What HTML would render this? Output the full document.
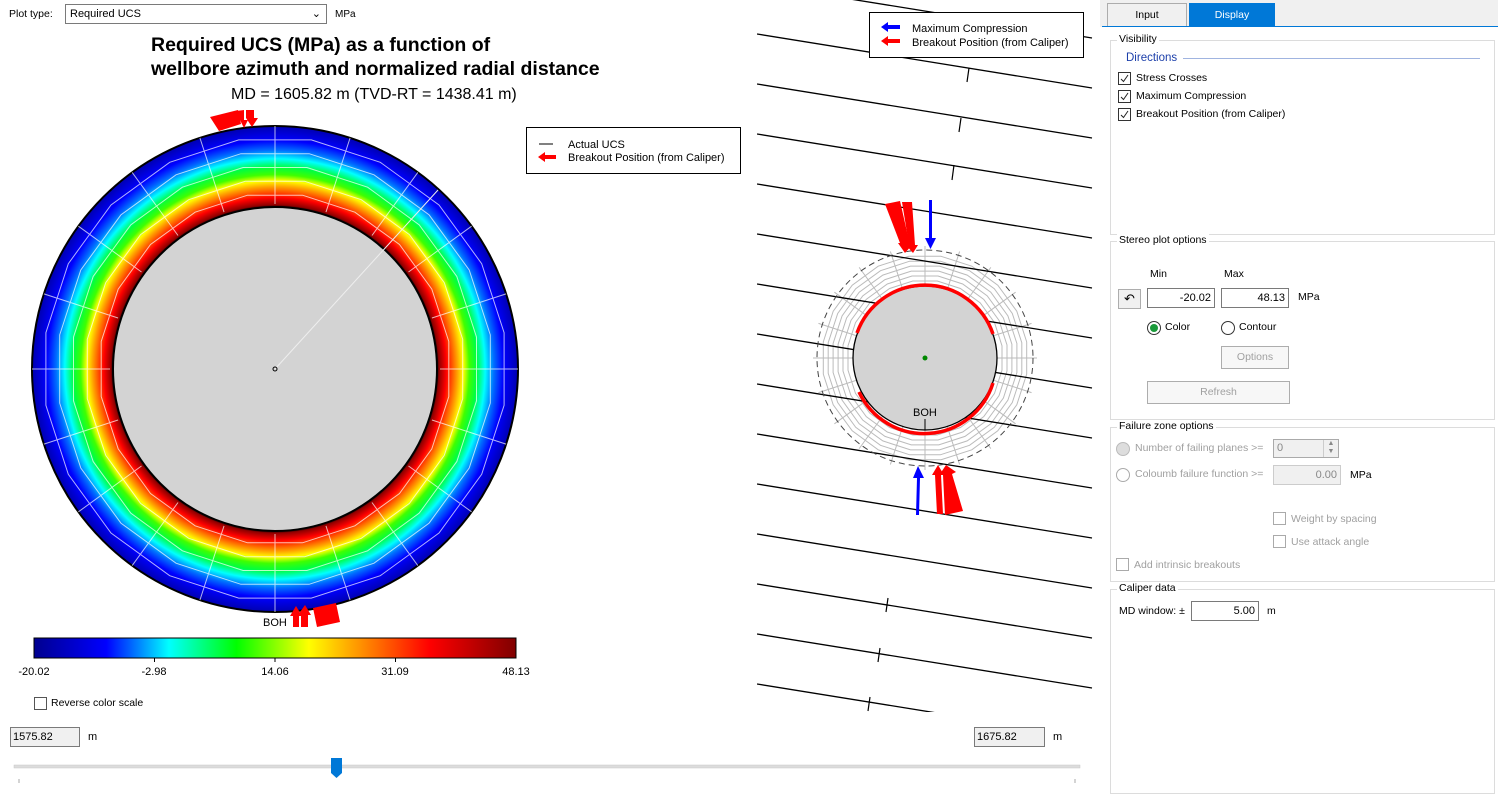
<!DOCTYPE html>
<html><head><meta charset="utf-8"><style>
body{margin:0;width:1498px;height:801px;background:#fff;font-family:"Liberation Sans",sans-serif;font-size:11px;color:#000;position:relative;overflow:hidden}
.a{position:absolute;white-space:nowrap}
.p{font-size:10.5px}
.gb{position:absolute;border:1px solid #dcdcdc}
.gt{position:absolute;background:#fff;padding:0 2px;top:-8px;left:6px;font-size:10.5px}
.cb{position:absolute;width:11px;height:11px;border:1px solid #333;background:#fff}
.tb{position:absolute;border:1px solid #7a7a7a;background:#fff;text-align:right;padding-right:3px;box-sizing:border-box;line-height:18px;font-size:11px}
.dis{color:#a0a0a0}
.btn{position:absolute;border:1px solid #adadad;background:#f7f7f7;color:#a0a0a0;text-align:center;box-sizing:border-box;line-height:20px;font-size:10.5px}
</style></head><body>
<div class="a" style="left:9px;top:8px;font-size:10.5px">Plot type:</div>
<div class="a" style="left:65px;top:4px;width:262px;height:20px;border:1px solid #7a7a7a;box-sizing:border-box;padding-left:4px;line-height:18px">Required UCS<span style="position:absolute;right:5px;top:0">&#8964;</span></div>
<div class="a" style="left:335px;top:9px;font-size:10px">MPa</div>
<div class="a" style="left:151px;top:33px;font-size:19.5px;font-weight:bold;line-height:24px">Required UCS (MPa) as a function of<br>wellbore azimuth and normalized radial distance</div>
<div class="a" style="left:231px;top:86px;font-size:16px">MD = 1605.82 m (TVD-RT = 1438.41 m)</div>

<svg width="1100" height="801" style="position:absolute;left:0;top:0">
<defs>
<radialGradient id="rg" cx="275" cy="369" r="243" gradientUnits="userSpaceOnUse">
<stop offset="0.665" stop-color="#000"/>
<stop offset="0.675" stop-color="#900000"/>
<stop offset="0.705" stop-color="#ff0000"/>
<stop offset="0.75" stop-color="#ffa000"/>
<stop offset="0.775" stop-color="#ffff00"/>
<stop offset="0.80" stop-color="#40ff00"/>
<stop offset="0.83" stop-color="#00ff40"/>
<stop offset="0.865" stop-color="#00ffff"/>
<stop offset="0.90" stop-color="#0070ff"/>
<stop offset="0.94" stop-color="#0000ff"/>
<stop offset="1" stop-color="#0000b0"/>
</radialGradient>
<linearGradient id="jet" x1="0" x2="1">
<stop offset="0" stop-color="#00008f"/><stop offset="0.15" stop-color="#0000ff"/><stop offset="0.28" stop-color="#00ffff"/><stop offset="0.42" stop-color="#00ff00"/><stop offset="0.57" stop-color="#ffff00"/><stop offset="0.82" stop-color="#ff0000"/><stop offset="1" stop-color="#800000"/>
</linearGradient>
<clipPath id="mc"><rect x="757" y="0" width="336" height="712"/></clipPath>
</defs>
<circle cx="275" cy="369" r="243" fill="url(#rg)" stroke="#000" stroke-width="2"/>
<g stroke="#fff" stroke-width="1" fill="none" opacity="0.7" id="grid"></g>
<circle cx="275" cy="369" r="162" fill="#d3d3d3" stroke="#000" stroke-width="2"/>
<line x1="275" y1="369" x2="438" y2="190" stroke="#eee" stroke-width="1"/>
<circle cx="275" cy="369" r="2" fill="none" stroke="#000"/>
<polygon points="210,117 238,110 241,124 219,131" fill="#f00"/>
<polygon points="236,111 244,110 244,120 248,120 244,128 240,120 236,120" fill="#f00"/>
<polygon points="246,110 254,110 254,118 258,118 252,127 246,118" fill="#f00"/>
<polygon points="313,608 336,603 340,622 317,627" fill="#f00"/>
<polygon points="293,627 293,616 290,616 296,606 302,616 299,616 299,627" fill="#f00"/>
<polygon points="301,627 301,615 298,615 305,605 311,615 308,615 308,627" fill="#f00"/>
<text x="263" y="626" font-size="11" font-family="Liberation Sans">BOH</text>
<rect x="34" y="638" width="482" height="20" fill="url(#jet)" stroke="#000"/>
<g stroke="#000"><line x1="154.5" y1="658" x2="154.5" y2="662"/><line x1="275" y1="658" x2="275" y2="662"/><line x1="395.5" y1="658" x2="395.5" y2="662"/></g>
<g font-size="11" font-family="Liberation Sans" text-anchor="middle"><text x="34" y="675">-20.02</text><text x="154" y="675">-2.98</text><text x="275" y="675">14.06</text><text x="395" y="675">31.09</text><text x="516" y="675">48.13</text></g>
<rect x="526.5" y="127.5" width="214" height="46" fill="#fff" stroke="#000"/>
<line x1="539" y1="144" x2="553" y2="144" stroke="#000"/>
<polygon points="538,157 545,152 545,155 556,155 556,159 545,159 545,162" fill="#f00"/>
<text x="568" y="148" font-size="11" font-family="Liberation Sans">Actual UCS</text>
<text x="568" y="161" font-size="11" font-family="Liberation Sans">Breakout Position (from Caliper)</text>
<circle cx="925" cy="358" r="108" fill="#fff" stroke="none"/>
<g stroke="#bbb" stroke-width="1" fill="none" id="mgrid"></g>
<g clip-path="url(#mc)" stroke="#000" stroke-width="1.3" id="lines"></g>
<g stroke="#000" stroke-width="1.2"><line x1="969" y1="68" x2="967" y2="82"/><line x1="961" y1="118" x2="959" y2="132"/><line x1="954" y1="165" x2="952" y2="180"/><line x1="888" y1="598" x2="886" y2="612"/><line x1="880" y1="648" x2="878" y2="662"/><line x1="870" y1="697" x2="868" y2="711"/></g>
<circle cx="925" cy="358" r="108" fill="none" stroke="#444" stroke-dasharray="6,4"/>
<circle cx="925" cy="358" r="72" fill="#d3d3d3" stroke="#000" stroke-width="1.3"/>
<path d="M857,333 A72,72 0 0 1 993,334" stroke="#f00" stroke-width="3.5" fill="none"/>
<path d="M859,392 A72,72 0 0 0 993,383" stroke="#f00" stroke-width="3.5" fill="none"/>
<circle cx="925" cy="358" r="2.5" fill="#080"/>
<text x="913" y="416" font-size="11" font-family="Liberation Sans">BOH</text>
<line x1="925" y1="419" x2="925" y2="430" stroke="#000"/>
<polygon points="885,204 900,201 910,245 912,245 905,253 898,243 900,243" fill="#f00"/>
<polygon points="902,202 912,202 915,245 918,245 913,253 906,245 909,245" fill="#f00"/>
<polygon points="929,200 932,200 932,238 936,238 930.5,249 925,238 929,238" fill="#00f"/>
<polygon points="916,515 919,515 920,478 924,478 918,466 913,478 917,478" fill="#00f"/>
<polygon points="937,514 943,514 941,475 944,475 938,465 932,475 935,475" fill="#f00"/>
<polygon points="945,515 963,511 952,474 956,472 946,465 940,474 943,475" fill="#f00"/>
<rect x="869.5" y="12.5" width="214" height="45" fill="#fff" stroke="#000"/>
<polygon points="881,27 888,22 888,25 900,25 900,29 888,29 888,32" fill="#00f"/>
<polygon points="881,41 888,36 888,39 900,39 900,43 888,43 888,46" fill="#f00"/>
<text x="912" y="32" font-size="11" font-family="Liberation Sans">Maximum Compression</text>
<text x="912" y="46" font-size="11" font-family="Liberation Sans">Breakout Position (from Caliper)</text>
<rect x="14" y="765" width="1066" height="3" fill="#dcdcdc" stroke="#c8c8c8" stroke-width="0.5"/>
<polygon points="331,758 342,758 342,773 336.5,778 331,773" fill="#0078d7"/>
<line x1="19" y1="779" x2="19" y2="783" stroke="#aaa"/><line x1="1075" y1="779" x2="1075" y2="783" stroke="#aaa"/>
</svg>
<script>
(function(){
var ns="http://www.w3.org/2000/svg";
function poly(g,cx,cy,r,n,off){var p=[];for(var i=0;i<n;i++){var a=(i*360/n+off)*Math.PI/180;p.push((cx+r*Math.sin(a)).toFixed(1)+","+(cy-r*Math.cos(a)).toFixed(1));}var e=document.createElementNS(ns,"polygon");e.setAttribute("points",p.join(" "));g.appendChild(e);}
function spokes(g,cx,cy,r1,r2,n){for(var i=0;i<n;i++){var a=i*2*Math.PI/n,e=document.createElementNS(ns,"line");e.setAttribute("x1",cx+r1*Math.sin(a));e.setAttribute("y1",cy-r1*Math.cos(a));e.setAttribute("x2",cx+r2*Math.sin(a));e.setAttribute("y2",cy-r2*Math.cos(a));g.appendChild(e);}}
var g=document.getElementById("grid");
[176,190,204,218,232].forEach(function(r){poly(g,275,369,r,20,9);});
spokes(g,275,369,165,243,20);
var m=document.getElementById("mgrid");
[78,83,88,93,98,103].forEach(function(r){poly(m,925,358,r,20,9);});
spokes(m,925,358,72,112,20);
var L=document.getElementById("lines");
for(var k=0;k<16;k++){var y=-16+50*k,e=document.createElementNS(ns,"line");e.setAttribute("x1",757);e.setAttribute("y1",y);e.setAttribute("x2",1092);e.setAttribute("y2",y+54);L.appendChild(e);}
})();
</script>

<div class="a" style="left:34px;top:697px"><span class="cb" style="left:0;top:0;border-color:#555"></span><span style="position:absolute;left:17px;top:0;font-size:10.5px">Reverse color scale</span></div>
<div class="tb" style="left:10px;top:727px;width:70px;height:20px;background:#f0f0f0;text-align:left;padding-left:2px">1575.82</div>
<div class="a" style="left:88px;top:731px">m</div>
<div class="tb" style="left:974px;top:727px;width:71px;height:20px;background:#f0f0f0;text-align:left;padding-left:2px">1675.82</div>
<div class="a" style="left:1053px;top:731px">m</div>

<div class="a" style="left:1100px;top:0;width:398px;height:801px;background:#fff"></div>
<div class="a" style="left:1100px;top:0;width:398px;height:27px;background:#f0f0f0"></div>
<div class="a p" style="left:1107px;top:3px;width:78px;height:23px;border:1px solid #acacac;border-bottom:none;background:#f0f0f0;text-align:center;line-height:23px">Input</div>
<div class="a p" style="left:1189px;top:3px;width:86px;height:24px;background:#0078d7;color:#fff;text-align:center;line-height:24px">Display</div>
<div class="a" style="left:1102px;top:26px;width:396px;height:1px;background:#0078d7"></div>

<div class="gb" style="left:1110px;top:40px;width:383px;height:193px"><span class="gt">Visibility</span></div>
<div class="a" style="left:1126px;top:52px;color:#1c3faa;font-size:11.5px">Directions</div>
<div class="a" style="left:1183px;top:58px;width:297px;height:1px;background:#a0b4e0"></div>
<div class="cb" style="left:1118px;top:72px"></div><div class="a p" style="left:1136px;top:72px">Stress Crosses</div>
<div class="cb" style="left:1118px;top:90px"></div><div class="a p" style="left:1136px;top:90px">Maximum Compression</div>
<div class="cb" style="left:1118px;top:108px"></div><div class="a p" style="left:1136px;top:108px">Breakout Position (from Caliper)</div>
<svg style="position:absolute;left:1118px;top:72px" width="13" height="50"><g stroke="#222" fill="none" stroke-width="1"><path d="M3,7 L5.5,9.5 L10,3"/><path d="M3,25 L5.5,27.5 L10,21"/><path d="M3,43 L5.5,45.5 L10,39"/></g></svg>

<div class="gb" style="left:1110px;top:241px;width:383px;height:177px"><span class="gt">Stereo plot options</span></div>
<div class="a p" style="left:1150px;top:268px">Min</div><div class="a p" style="left:1224px;top:268px">Max</div>
<div class="a" style="left:1118px;top:289px;width:21px;height:18px;border:1px solid #adadad;background:#f0f0f0;text-align:center;font-size:13px;line-height:18px">&#8630;</div>
<div class="tb" style="left:1147px;top:288px;width:68px;height:20px">-20.02</div>
<div class="tb" style="left:1221px;top:288px;width:68px;height:20px">48.13</div>
<div class="a p" style="left:1298px;top:291px">MPa</div>
<div class="a" style="left:1147px;top:321px;width:12px;height:12px;border:1px solid #333;border-radius:50%"></div>
<div class="a" style="left:1150px;top:324px;width:8px;height:8px;background:#1a9a3a;border-radius:50%"></div>
<div class="a p" style="left:1165px;top:321px">Color</div>
<div class="a" style="left:1221px;top:321px;width:12px;height:12px;border:1px solid #333;border-radius:50%"></div>
<div class="a p" style="left:1239px;top:321px">Contour</div>
<div class="btn" style="left:1221px;top:346px;width:68px;height:23px">Options</div>
<div class="btn" style="left:1147px;top:381px;width:143px;height:23px">Refresh</div>

<div class="gb" style="left:1110px;top:427px;width:383px;height:153px"><span class="gt">Failure zone options</span></div>
<div class="a" style="left:1116px;top:442px;width:12px;height:12px;border:1px solid #bbb;border-radius:50%;background:#ddd"></div>
<div class="a dis p" style="left:1135px;top:442px">Number of failing planes &gt;=</div>
<div class="a" style="left:1273px;top:439px;width:66px;height:19px;border:1px solid #aaa;background:#f0f0f0;box-sizing:border-box;color:#888;padding-left:3px;line-height:17px">0<span style="position:absolute;right:0;top:0;width:14px;height:17px;border-left:1px solid #ccc;font-size:7px;line-height:8px;text-align:center">&#9650;<br>&#9660;</span></div>
<div class="a" style="left:1116px;top:468px;width:12px;height:12px;border:1px solid #aaa;border-radius:50%"></div>
<div class="a dis p" style="left:1135px;top:468px">Coloumb failure function &gt;=</div>
<div class="a" style="left:1273px;top:465px;width:68px;height:20px;border:1px solid #ccc;background:#f0f0f0;box-sizing:border-box;color:#888;text-align:right;padding-right:3px;line-height:19px">0.00</div>
<div class="a p" style="left:1350px;top:469px">MPa</div>
<div class="cb" style="left:1273px;top:512px;border-color:#aaa"></div><div class="a dis p" style="left:1291px;top:513px">Weight by spacing</div>
<div class="cb" style="left:1273px;top:535px;border-color:#aaa"></div><div class="a dis p" style="left:1291px;top:536px">Use attack angle</div>
<div class="cb" style="left:1116px;top:558px;border-color:#aaa"></div><div class="a dis p" style="left:1134px;top:559px">Add intrinsic breakouts</div>

<div class="gb" style="left:1110px;top:589px;width:383px;height:203px"><span class="gt">Caliper data</span></div>
<div class="a p" style="left:1119px;top:605px">MD window: ±</div>
<div class="tb" style="left:1191px;top:601px;width:68px;height:20px">5.00</div>
<div class="a p" style="left:1267px;top:605px">m</div>
</body></html>
